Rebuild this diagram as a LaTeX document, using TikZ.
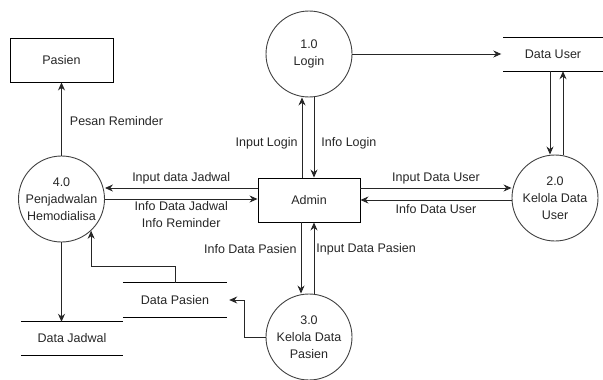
\documentclass[tikz,border=0pt]{standalone}
\usepackage{fontspec}
\setmainfont{Liberation Sans}
\usetikzlibrary{arrows.meta,calc}
\begin{document}
\begin{tikzpicture}[x=1pt,y=-1pt,
  every node/.style={font=\fontsize{12.5}{16.8}\selectfont, text=black!85},
  proc/.style={circle,draw=black!75,line width=0.9pt,minimum size=86pt,inner sep=0pt,align=center},
  ent/.style={draw=black,line width=0.9pt,minimum width=103pt,minimum height=44pt,inner sep=0pt},
  store/.style={minimum width=100pt,minimum height=33pt,inner sep=0pt},
  storeline/.style={draw=black,line width=0.9pt},
  arr/.style={draw=black!85,line width=0.9pt,-{Stealth[length=8pt,width=7pt]}},
  lbl/.style={inner sep=1pt,align=center}]
\useasboundingbox (0,0) rectangle (603,380);

% entities and processes
\node[ent] (pasien) at (61.5,60) {Pasien};
\node[proc] (login) at (309,54) {1.0\\Login};
\node[ent,minimum width=102pt] (admin) at (309,200) {Admin};
\node[proc] (kdu) at (555,198) {2.0\\Kelola Data\\User};
\node[proc] (jadwal) at (61.5,199) {4.0\\Penjadwalan\\Hemodialisa};
\node[proc] (kdp) at (309,337) {3.0\\Kelola Data\\Pasien};

% data stores
\node[store,minimum width=99pt] (duser) at (553,54.5) {Data User};
\node[store,minimum width=104pt,minimum height=34pt] (dpasien) at (175,300) {Data Pasien};
\node[store,minimum width=102pt] (djadwal) at (72,338.5) {Data Jadwal};
\foreach \s in {duser,dpasien,djadwal}{
  \draw[storeline] (\s.north west) -- (\s.north east);
  \draw[storeline] (\s.south west) -- (\s.south east);
}

% login
\draw[arr] (login.east) -- ([xshift=-2pt]login.east -| duser.west);
\draw[arr] ([xshift=-7pt]admin.north) -- ([xshift=-7pt]login.south)
  node[lbl,left=3pt,pos=0.43]{Input Login};
\draw[arr] ([xshift=5pt]login.south) -- ([xshift=5pt]admin.north)
  node[lbl,right=6pt,pos=0.57]{Info Login};

% data user
\coordinate (k1) at ([xshift=-5pt]kdu.north);
\coordinate (k2) at ([xshift=8pt]kdu.north);
\draw[arr] (k1 |- duser.south) -- (k1);
\draw[arr] (k2) -- (k2 |- duser.south);
\draw[arr] ([yshift=12pt]admin.east) -- ([yshift=10pt]kdu.west)
  node[lbl,above=2pt,midway]{Input Data User};
\draw[arr] ([yshift=-2pt]kdu.west) -- (admin.east)
  node[lbl,below=3pt,midway]{Info Data User};

% jadwal
\draw[arr] ([yshift=12pt]admin.west) -- ([yshift=11pt]jadwal.east)
  node[lbl,above=2pt,midway]{Input data Jadwal};
\draw[arr] (jadwal.east) -- (jadwal.east -| admin.west)
  node[lbl,below=1pt,midway]{Info Data Jadwal\\Info Reminder};
\draw[arr] (jadwal.north) -- (pasien.south)
  node[lbl,right=7pt,pos=0.47]{Pesan Reminder};
\draw[arr] (jadwal.south) -- (jadwal.south |- djadwal.north);
\draw[arr] (dpasien.north) -- ++(0,-16) -| (jadwal.-47);

% pasien
\draw[arr] (kdp.west) -- ++(-21,0) |- ([xshift=2pt]dpasien.east);
\draw[arr] ([xshift=-8pt]admin.south) -- ([xshift=-8pt]kdp.north)
  node[lbl,left=3pt,pos=0.38]{Info Data Pasien};
\draw[arr] ([xshift=5pt]kdp.north) -- ([xshift=5pt]admin.south)
  node[lbl,right=1pt,pos=0.62]{Input Data Pasien};
\end{tikzpicture}
\end{document}
